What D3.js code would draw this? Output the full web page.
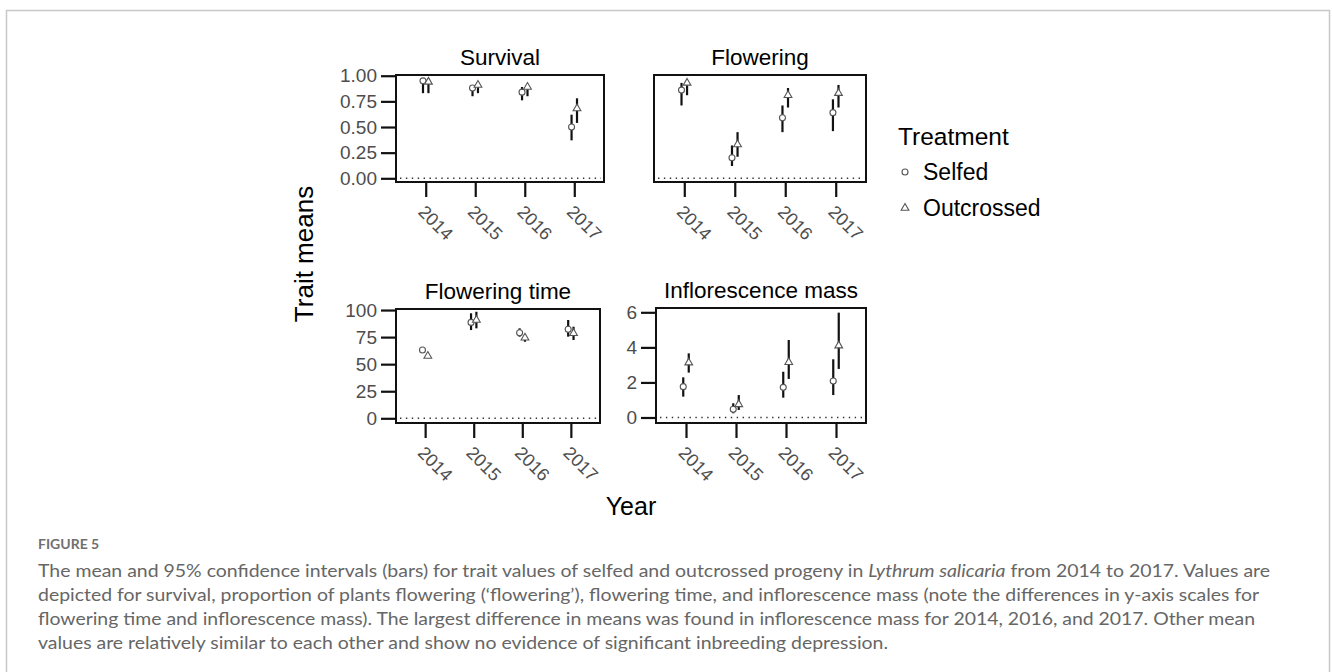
<!DOCTYPE html>
<html>
<head>
<meta charset="utf-8">
<script src="https://cdn.jsdelivr.net/npm/d3@7"></script>
<style>
  body { margin: 0; background: #fff; }
  svg { display: block; }
</style>
</head>
<body>
<svg id="fig" width="1332" height="672"></svg>
<script>
// ---- data: [mean, lower 95% CI, upper 95% CI] per year ----
const years = ["2014", "2015", "2016", "2017"];
const treatments = ["Selfed", "Outcrossed"];

const survivalSelfed      = [[0.95, 0.83, 0.97], [0.88, 0.80, 0.90], [0.84, 0.76, 0.89], [0.50, 0.37, 0.62]];
const survivalOutcrossed  = [[0.94, 0.83, 0.97], [0.91, 0.83, 0.93], [0.89, 0.80, 0.91], [0.68, 0.54, 0.78]];

const floweringSelfed     = [[0.86, 0.71, 0.93], [0.20, 0.12, 0.32], [0.59, 0.45, 0.71], [0.64, 0.46, 0.77]];
const floweringOutcrossed = [[0.93, 0.81, 0.96], [0.33, 0.21, 0.45], [0.81, 0.69, 0.88], [0.83, 0.69, 0.91]];

const flowTimeSelfed      = [[63.1, 61.8, 64.4], [88.6, 81.5, 97.0], [79.0, 75.4, 83.1], [82.2, 75.4, 90.8]];
const flowTimeOutcrossed  = [[57.5, 56.2, 58.8], [90.8, 83.1, 98.4], [74.4, 70.7, 77.5], [78.5, 72.3, 84.6]];

const massSelfed          = [[1.76, 1.19, 2.29], [0.47, 0.24, 0.81], [1.72, 1.13, 2.61], [2.08, 1.28, 3.32]];
const massOutcrossed      = [[3.13, 2.56, 3.66], [0.75, 0.43, 1.28], [3.15, 2.20, 4.42], [4.10, 2.77, 5.98]];

const proportionTicks = [0, 0.25, 0.5, 0.75, 1];
const flowTimeTicks   = [0, 25, 50, 75, 100];
const massTicks       = [0, 2, 4, 6];

// ---- layout of the four panels ----
const panels = [
  { title: "Survival", series: [survivalSelfed, survivalOutcrossed],
    x0: 396, x1: 604, y0: 75, y1: 182, yDomain: [-0.036, 1.007],
    ticks: proportionTicks, fmt: d3.format(".2f"), yAxis: true },
  { title: "Flowering", series: [floweringSelfed, floweringOutcrossed],
    x0: 654, x1: 866, y0: 75, y1: 182, yDomain: [-0.036, 1.007],
    ticks: proportionTicks, fmt: d3.format(".2f"), yAxis: false },
  { title: "Flowering time", series: [flowTimeSelfed, flowTimeOutcrossed],
    x0: 396, x1: 600, y0: 309, y1: 423, yDomain: [-4.34, 100.96],
    ticks: flowTimeTicks, fmt: d3.format("d"), yAxis: true },
  { title: "Inflorescence mass", series: [massSelfed, massOutcrossed],
    x0: 656, x1: 866, y0: 308, y1: 423, yDomain: [-0.314, 6.246],
    ticks: massTicks, fmt: d3.format("d"), yAxis: true }
];

const FONT = "'Liberation Sans', Arial, Helvetica, sans-serif";
const svg = d3.select("#fig");

// page frame
svg.append("path")
  .attr("d", "M6.5,672V10.5H1329.5V672")
  .attr("fill", "none").attr("stroke", "#c8c8c8").attr("stroke-width", 1.5);

const triangle = d3.symbol().type(d3.symbolTriangle).size(26);

function drawPoint(g, kind, cx, cy) {
  if (kind === 0) {
    g.append("circle").attr("cx", cx).attr("cy", cy).attr("r", 3)
      .attr("fill", "#fff").attr("stroke", "#555").attr("stroke-width", 1.1);
  } else {
    g.append("path").attr("d", triangle())
      .attr("transform", `translate(${cx},${cy})`)
      .attr("fill", "#fff").attr("stroke", "#555").attr("stroke-width", 1.1);
  }
}

panels.forEach(p => {
  const x = d3.scalePoint().domain(years).range([p.x0, p.x1]).padding(0.6);
  const y = d3.scaleLinear().domain(p.yDomain).range([p.y1, p.y0]);
  const dodge = x.step() * 0.055;
  const g = svg.append("g");

  // zero reference line
  g.append("line")
    .attr("x1", p.x0 + 4).attr("x2", p.x1 - 3)
    .attr("y1", y(0)).attr("y2", y(0))
    .attr("stroke", "#333").attr("stroke-width", 1.4)
    .attr("stroke-dasharray", "1.4,4.5");

  // confidence intervals
  p.series.forEach((s, k) => {
    const off = k === 0 ? -dodge : dodge;
    s.forEach((d, i) => {
      g.append("line")
        .attr("x1", x(years[i]) + off).attr("x2", x(years[i]) + off)
        .attr("y1", y(d[1])).attr("y2", y(d[2]))
        .attr("stroke", "#111").attr("stroke-width", 2.2);
    });
  });
  // means
  p.series.forEach((s, k) => {
    const off = k === 0 ? -dodge : dodge;
    s.forEach((d, i) => drawPoint(g, k, x(years[i]) + off, y(d[0])));
  });

  // panel border
  g.append("rect")
    .attr("x", p.x0).attr("y", p.y0)
    .attr("width", p.x1 - p.x0).attr("height", p.y1 - p.y0)
    .attr("fill", "none").attr("stroke", "#111").attr("stroke-width", 2);

  // y axis
  if (p.yAxis) {
    const ya = g.append("g").attr("transform", `translate(${p.x0},0)`)
      .call(d3.axisLeft(y).tickValues(p.ticks).tickFormat(p.fmt).tickSize(15).tickPadding(4));
    ya.select(".domain").remove();
    ya.selectAll(".tick line").attr("stroke", "#111").attr("stroke-width", 2.2);
    ya.selectAll(".tick text").attr("fill", "#4d4d4d")
      .style("font-family", FONT).style("font-size", "19px");
  }

  // x axis with slanted year labels
  const xa = g.append("g").attr("transform", `translate(0,${p.y1})`)
    .call(d3.axisBottom(x).tickSize(15));
  xa.select(".domain").remove();
  xa.selectAll(".tick line").attr("stroke", "#111").attr("stroke-width", 2.2);
  xa.selectAll(".tick text")
    .attr("x", 0).attr("y", 0).attr("dy", 0)
    .attr("text-anchor", "start")
    .attr("transform", "translate(-9,31) rotate(45)")
    .attr("fill", "#4d4d4d")
    .style("font-family", FONT).style("font-size", "18px");

  // panel title
  g.append("text")
    .attr("x", (p.x0 + p.x1) / 2).attr("y", p.y0 - 10)
    .attr("text-anchor", "middle")
    .style("font-family", FONT).style("font-size", "22.5px")
    .text(p.title);
});

// shared axis titles
svg.append("text")
  .attr("transform", "translate(313,254) rotate(-90)")
  .attr("text-anchor", "middle")
  .style("font-family", FONT).style("font-size", "26px")
  .text("Trait means");

svg.append("text")
  .attr("x", 631).attr("y", 515)
  .attr("text-anchor", "middle")
  .style("font-family", FONT).style("font-size", "25px")
  .text("Year");

// legend
const lg = svg.append("g");
lg.append("text").attr("x", 898).attr("y", 145)
  .style("font-family", FONT).style("font-size", "24.5px").text("Treatment");
treatments.forEach((t, k) => {
  const cy = 172 + k * 36;
  drawPoint(lg, k, 905, cy);
  lg.append("text").attr("x", 923).attr("y", cy + 8)
    .style("font-family", FONT).style("font-size", "23px").text(t);
});

// figure caption
const CAP = "Lato, 'Open Sans', sans-serif";
svg.append("text").attr("x", 38).attr("y", 549)
  .attr("fill", "#707070")
  .style("font-family", CAP).style("font-size", "14px").style("font-weight", "bold")
  .text("FIGURE 5");

const captionLines = [
  { y: 577, end: 1270, parts: [
    ["The mean and 95% confidence intervals (bars) for trait values of selfed and outcrossed progeny in ", false],
    ["Lythrum salicaria", true],
    [" from 2014 to 2017. Values are", false]] },
  { y: 601, end: 1259, parts: [
    ["depicted for survival, proportion of plants flowering (\u2018flowering\u2019), flowering time, and inflorescence mass (note the differences in y-axis scales for", false]] },
  { y: 625, end: 1255, parts: [
    ["flowering time and inflorescence mass). The largest difference in means was found in inflorescence mass for 2014, 2016, and 2017. Other mean", false]] },
  { y: 649, end: 888, parts: [
    ["values are relatively similar to each other and show no evidence of significant inbreeding depression.", false]] }
];
captionLines.forEach(l => {
  const t = svg.append("text").attr("x", 38).attr("y", l.y)
    .attr("fill", "#666")
    .attr("textLength", l.end - 38).attr("lengthAdjust", "spacingAndGlyphs")
    .style("font-family", CAP).style("font-size", "17.5px");
  l.parts.forEach(([s, it]) => {
    t.append("tspan").style("font-style", it ? "italic" : "normal").text(s);
  });
});
</script>
</body>
</html>
